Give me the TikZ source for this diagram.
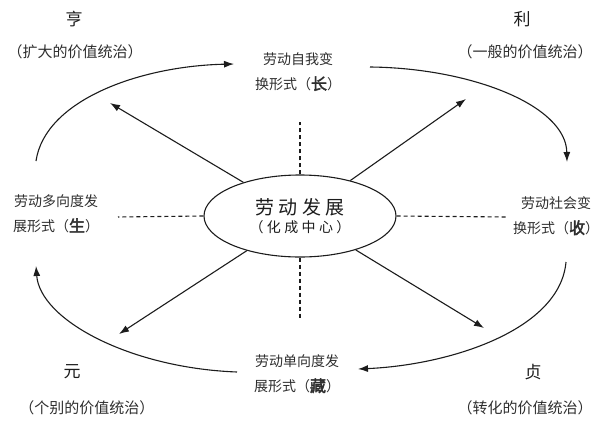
\documentclass[tikz,border=0pt]{standalone}
\usepackage{fontspec}
\setmainfont{Noto Sans CJK SC}[AutoFakeBold=2.5]
\newfontfamily\widecjk{Noto Sans CJK SC}[LetterSpace=24]
\usetikzlibrary{arrows.meta,shapes.geometric,calc}
\usepackage{xcolor}
\definecolor{ink}{HTML}{1C1C1C}
\definecolor{soft}{HTML}{2E2E2E}
\tikzset{
  >={Latex[length=10pt,width=7pt]},
  every node/.style={text=ink},
  core/.style={ellipse,draw=ink,line width=1.1pt,minimum width=192pt,minimum height=82pt,inner sep=0pt,align=center},
  formlbl/.style={align=center,font=\fontsize{14}{25}\selectfont,inner sep=0pt,text=soft},
  phase/.style={font=\fontsize{17}{20}\selectfont,inner sep=0pt},
  rulelbl/.style={font=\fontsize{15}{18}\selectfont,inner sep=0pt,text=soft},
  arrow/.style={->,line width=1.1pt,draw=ink},
  cyc/.style={->,line width=1.1pt,draw=ink},
  guide/.style={line width=1.1pt,draw=ink,dash pattern=on 4pt off 3pt},
}
\begin{document}
\begin{tikzpicture}[x=1pt,y=-1pt]
\useasboundingbox (0,0) rectangle (600,434);
% centre
\node[core] (mid) at (300,216) {{\widecjk\fontsize{19}{24}\selectfont 劳动发展}\\[3pt]{\widecjk\fontsize{14}{16}\selectfont （化成中心）}};
% four forms
\node[formlbl] (fN) at (298,72) {劳动自我变\\换形式（\textbf{\fontsize{16}{25}\selectfont 长}）};
\node[formlbl] (fE) at (556,216) {劳动社会变\\换形式（\textbf{\fontsize{16}{25}\selectfont 收}）};
\node[formlbl] (fS) at (297,374) {劳动单向度发\\展形式（\textbf{\fontsize{16}{25}\selectfont 藏}）};
\node[formlbl] (fW) at (56,214) {劳动多向度发\\展形式（\textbf{\fontsize{16}{25}\selectfont 生}）};
% corners
\node[phase] (heng) at (74,19) {亨};
\node[rulelbl] (rHeng) at (75,52) {（扩大的价值统治）};
\node[phase] (li) at (522,19) {利};
\node[rulelbl] (rLi) at (525,52) {（一般的价值统治）};
\node[phase] (yuan) at (72,372) {元};
\node[rulelbl] (rYuan) at (87,408) {（个别的价值统治）};
\node[phase] (zhen) at (533,372) {贞};
\node[rulelbl] (rZhen) at (525,408) {（转化的价值统治）};
% ends
\coordinate (gN) at (300,122);
\coordinate (gS) at (300,320);
\coordinate (gW) at (118,217);
\coordinate (gE) at (507,217);
\coordinate (tNW) at (110,103);
\coordinate (tNE) at (466,99);
\coordinate (tSW) at (119,334);
\coordinate (tSE) at (484,328);
\draw[guide] (mid.north) -- (gN);
\draw[guide] (mid.south) -- (gS);
\draw[guide] (mid.west) -- (gW);
\draw[guide] (mid.east) -- (gE);
\draw[arrow] (mid) -- (tNW);
\draw[arrow] (mid) -- (tNE);
\draw[arrow] (mid) -- (tSW);
\draw[arrow] (mid) -- (tSE);
% cycle
\coordinate (c1) at (36,161);
\coordinate (c2) at (234,64);
\coordinate (c3) at (370,67);
\coordinate (c4) at (567,162);
\coordinate (c5) at (566,262);
\coordinate (c6) at (358,369);
\coordinate (c7) at (237,372);
\coordinate (c8) at (36,266);
\draw[cyc] (c1) .. controls (45,100) and (140,66) .. (c2);
\draw[cyc] (c3) .. controls (470,68) and (566,105) .. (c4);
\draw[cyc] (c5) .. controls (560,330) and (450,365) .. (c6);
\draw[cyc] (c7) .. controls (130,368) and (40,320) .. (c8);
\end{tikzpicture}
\end{document}
